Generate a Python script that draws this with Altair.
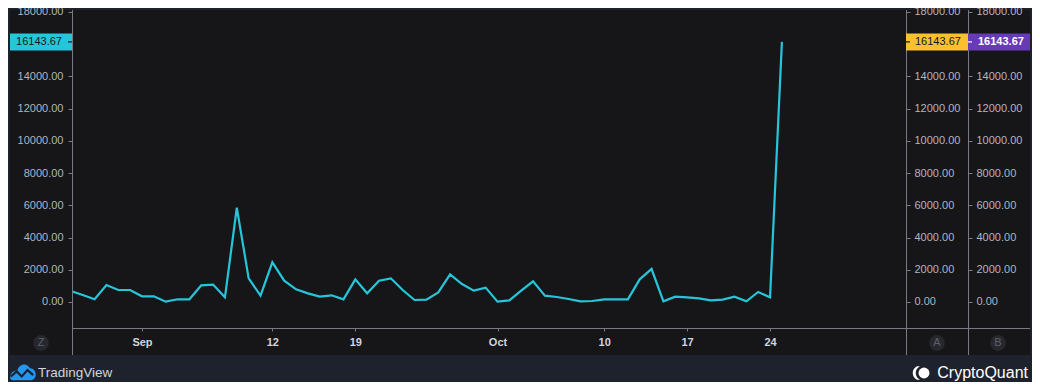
import altair as alt
import pandas as pd

# ---------------- data ----------------
dates = list(pd.date_range("2022-08-26", "2022-10-25", freq="D").strftime("%Y-%m-%d"))
values = [
    683, 430, 168, 1055, 745, 745,                      # Aug 26-31
    354, 354, 20, 168, 168, 1030, 1080, 290, 5850, 1470,  # Sep 1-10
    393, 2462, 1324, 786, 538, 331, 414, 166, 1407, 538,  # Sep 11-20
    1324, 1469, 745, 124, 145, 600, 1717, 1117, 703, 890,  # Sep 21-30
    20, 103, 703, 1283, 393, 310, 186, 41, 62, 166,       # Oct 1-10
    166, 166, 1407, 2048, 41, 331, 290, 228, 103, 145,    # Oct 11-20
    331, 41, 621, 290, 16143.67,                          # Oct 21-25
]
y_ticks = [0, 2000, 4000, 6000, 8000, 10000, 12000, 14000, 18000]
x_tick_days = [(9, 1), (9, 12), (9, 19), (10, 1), (10, 10), (10, 17), (10, 24)]
last_value = 16143.67
last_label = "16143.67"
badges = ["Z", "A", "B"]

# ---------------- style ----------------
OUTER = "#1e222d"
PANEL = "#161619"
LINE = "#26c6da"
AXIS = "#787b86"
LABEL = "#b2b5be"
XLABEL = "#d1d4dc"
DARK = "#131722"
CYAN = "#26c6da"
YELLOW = "#fbc02d"
PURPLE = "#673ab7"
FONT = "Liberation Sans"

W, H = 834, 318
Y_DOMAIN = [-1614, 18124]

df = pd.DataFrame({"date": dates, "value": values})
tag_df = pd.DataFrame({"v": [last_value], "label": [last_label]})
one = pd.DataFrame({"a": [0]})

xscale = alt.Scale(
    type="utc",
    domain=[
        alt.DateTime(year=2022, month=8, date=26, hours=2, minutes=13, utc=True),
        alt.DateTime(year=2022, month=11, date=4, hours=11, minutes=20, utc=True),
    ],
)
xaxis = alt.Axis(
    values=[alt.DateTime(year=2022, month=m, date=d, utc=True) for m, d in x_tick_days],
    labelExpr="utcdate(datum.value) == 1 ? utcFormat(datum.value, '%b') : '' + utcdate(datum.value)",
    domain=False, grid=False, title=None,
    tickColor=AXIS, tickSize=3, labelPadding=5,
    labelColor=XLABEL, labelFont=FONT, labelFontSize=11, labelFontWeight="bold",
    labelFlush=False, labelOverlap=False, zindex=1,
)
xenc = alt.X("date:T", scale=xscale, axis=xaxis)


def yscale():
    return alt.Scale(domain=Y_DOMAIN, nice=False, zero=False)


def yaxis(orient, offset):
    return alt.Axis(
        orient=orient, offset=offset, values=y_ticks, format=".2f",
        domain=False, grid=False, title=None,
        tickColor=AXIS, tickSize=4, labelPadding=5 if orient == "left" else 4,
        labelColor=LABEL, labelFont=FONT, labelFontSize=11,
        labelFlush=False, labelOverlap=False, zindex=1,
    )


# panel background
panel = alt.Chart(one).mark_rect(color=PANEL).encode(
    x=alt.value(-62), x2=alt.value(958), y=alt.value(0), y2=alt.value(345)
)

# main line with left axis
line = alt.Chart(df).mark_line(color=LINE, strokeWidth=2.2, clip=True).encode(
    x=xenc, y=alt.Y("value:Q", scale=yscale(), axis=yaxis("left", 0))
)
# invisible copies carrying the two right axes
right1 = alt.Chart(df).mark_line(opacity=0).encode(
    x=xenc, y=alt.Y("value:Q", scale=yscale(), axis=yaxis("right", 0))
)
right2 = alt.Chart(df).mark_line(opacity=0).encode(
    x=xenc, y=alt.Y("value:Q", scale=yscale(), axis=yaxis("right", 62))
)

# axis lines
vlines = [
    alt.Chart(one).mark_rule(color=AXIS, strokeWidth=1).encode(
        x=alt.value(px), y=alt.value(0), y2=alt.value(345)
    )
    for px in (0.5, 834.5, 896.5)
]
hline = alt.Chart(one).mark_rule(color=AXIS, strokeWidth=1).encode(
    x=alt.value(0), x2=alt.value(958), y=alt.value(318.5)
)


def tag(x0, x1, fill, text_color, text_x, align, dash_x0, dash_x1, dash_color, weight):
    yv = alt.Y("v:Q", scale=yscale(), axis=None)
    box = alt.Chart(tag_df).mark_rect(color=fill, yOffset=-8.5, y2Offset=8.5).encode(
        x=alt.value(x0), x2=alt.value(x1), y=yv, y2="v:Q"
    )
    dash = alt.Chart(tag_df).mark_rule(color=dash_color, strokeWidth=1.2).encode(
        x=alt.value(dash_x0), x2=alt.value(dash_x1), y=yv
    )
    txt = alt.Chart(tag_df).mark_text(
        align=align, baseline="middle", color=text_color, font=FONT,
        fontSize=11, fontWeight=weight
    ).encode(x=alt.value(text_x), y=yv, text="label:N")
    return [box, dash, txt]


tags = (
    tag(-62, 0, CYAN, DARK, -10, "right", -4, 0, DARK, "normal")
    + tag(834, 896, YELLOW, DARK, 843, "left", 834, 838, DARK, "normal")
    + tag(896, 958, PURPLE, "#ffffff", 906, "left", 896, 900, "#ffffff", "bold")
)

# round badges Z / A / B
badge_layers = []
for letter, px in zip(badges, (-31, 865, 926)):
    bdf = pd.DataFrame({"t": [letter]})
    badge_layers.append(
        alt.Chart(bdf).mark_circle(color="#26282e", opacity=1, size=250).encode(
            x=alt.value(px), y=alt.value(333)
        )
    )
    badge_layers.append(
        alt.Chart(bdf).mark_text(color="#5d606b", font=FONT, fontSize=11, baseline="middle").encode(
            x=alt.value(px), y=alt.value(333), text="t:N"
        )
    )

# logos
tv_cloud = alt.Chart(one).mark_point(
    shape="M-1,0.45 C-1,0.05 -0.75,-0.15 -0.45,-0.1 C-0.35,-0.6 0.25,-0.8 0.55,-0.3 "
          "C0.85,-0.3 1,-0.05 1,0.2 C1,0.5 0.8,0.65 0.55,0.65 L-0.8,0.65 C-0.95,0.65 -1,0.55 -1,0.45 Z",
    filled=True, color="#2196f3", opacity=1, size=650,
).encode(x=alt.value(-49), y=alt.value(362))
tv_zig = alt.Chart(one).mark_point(
    shape="M-0.95,0.35 L-0.5,-0.05 L-0.1,0.35 L0.35,-0.15 L0.8,0.25",
    filled=False, color=OUTER, strokeWidth=2.2, opacity=1, size=650,
).encode(x=alt.value(-49), y=alt.value(362))
tv_text = alt.Chart(one).mark_text(
    text="TradingView", align="left", baseline="middle", color=XLABEL,
    font=FONT, fontSize=13.5
).encode(x=alt.value(-34), y=alt.value(363))

cq_arc = alt.Chart(one).mark_point(
    shape="M0.3,-1 A1.1,1.1 0 0 0 0.3,1 L0.75,1 A1.1,1.1 0 0 1 0.75,-1 Z",
    filled=True, color="#ffffff", opacity=1, size=180,
).encode(x=alt.value(843), y=alt.value(363))
cq_dot = alt.Chart(one).mark_circle(color="#ffffff", opacity=1, size=120).encode(
    x=alt.value(852), y=alt.value(363)
)
cq_text = alt.Chart(one).mark_text(
    text="CryptoQuant", align="right", baseline="middle", color="#ffffff",
    font=FONT, fontSize=16
).encode(x=alt.value(956), y=alt.value(363))

layers = [panel, line, right1, right2] + vlines + [hline] + tags + badge_layers + [
    tv_cloud, tv_zig, tv_text, cq_arc, cq_dot, cq_text
]

chart = (
    alt.layer(*layers)
    .resolve_scale(y="independent")
    .properties(
        width=W, height=H,
        padding={"left": 64, "top": 2, "right": 126, "bottom": 54},
        autosize=alt.AutoSizeParams(type="none"),
        background=OUTER,
    )
    .configure_view(strokeWidth=0)
)

chart.save("out.html", embed_options={"renderer": "svg", "actions": False})
